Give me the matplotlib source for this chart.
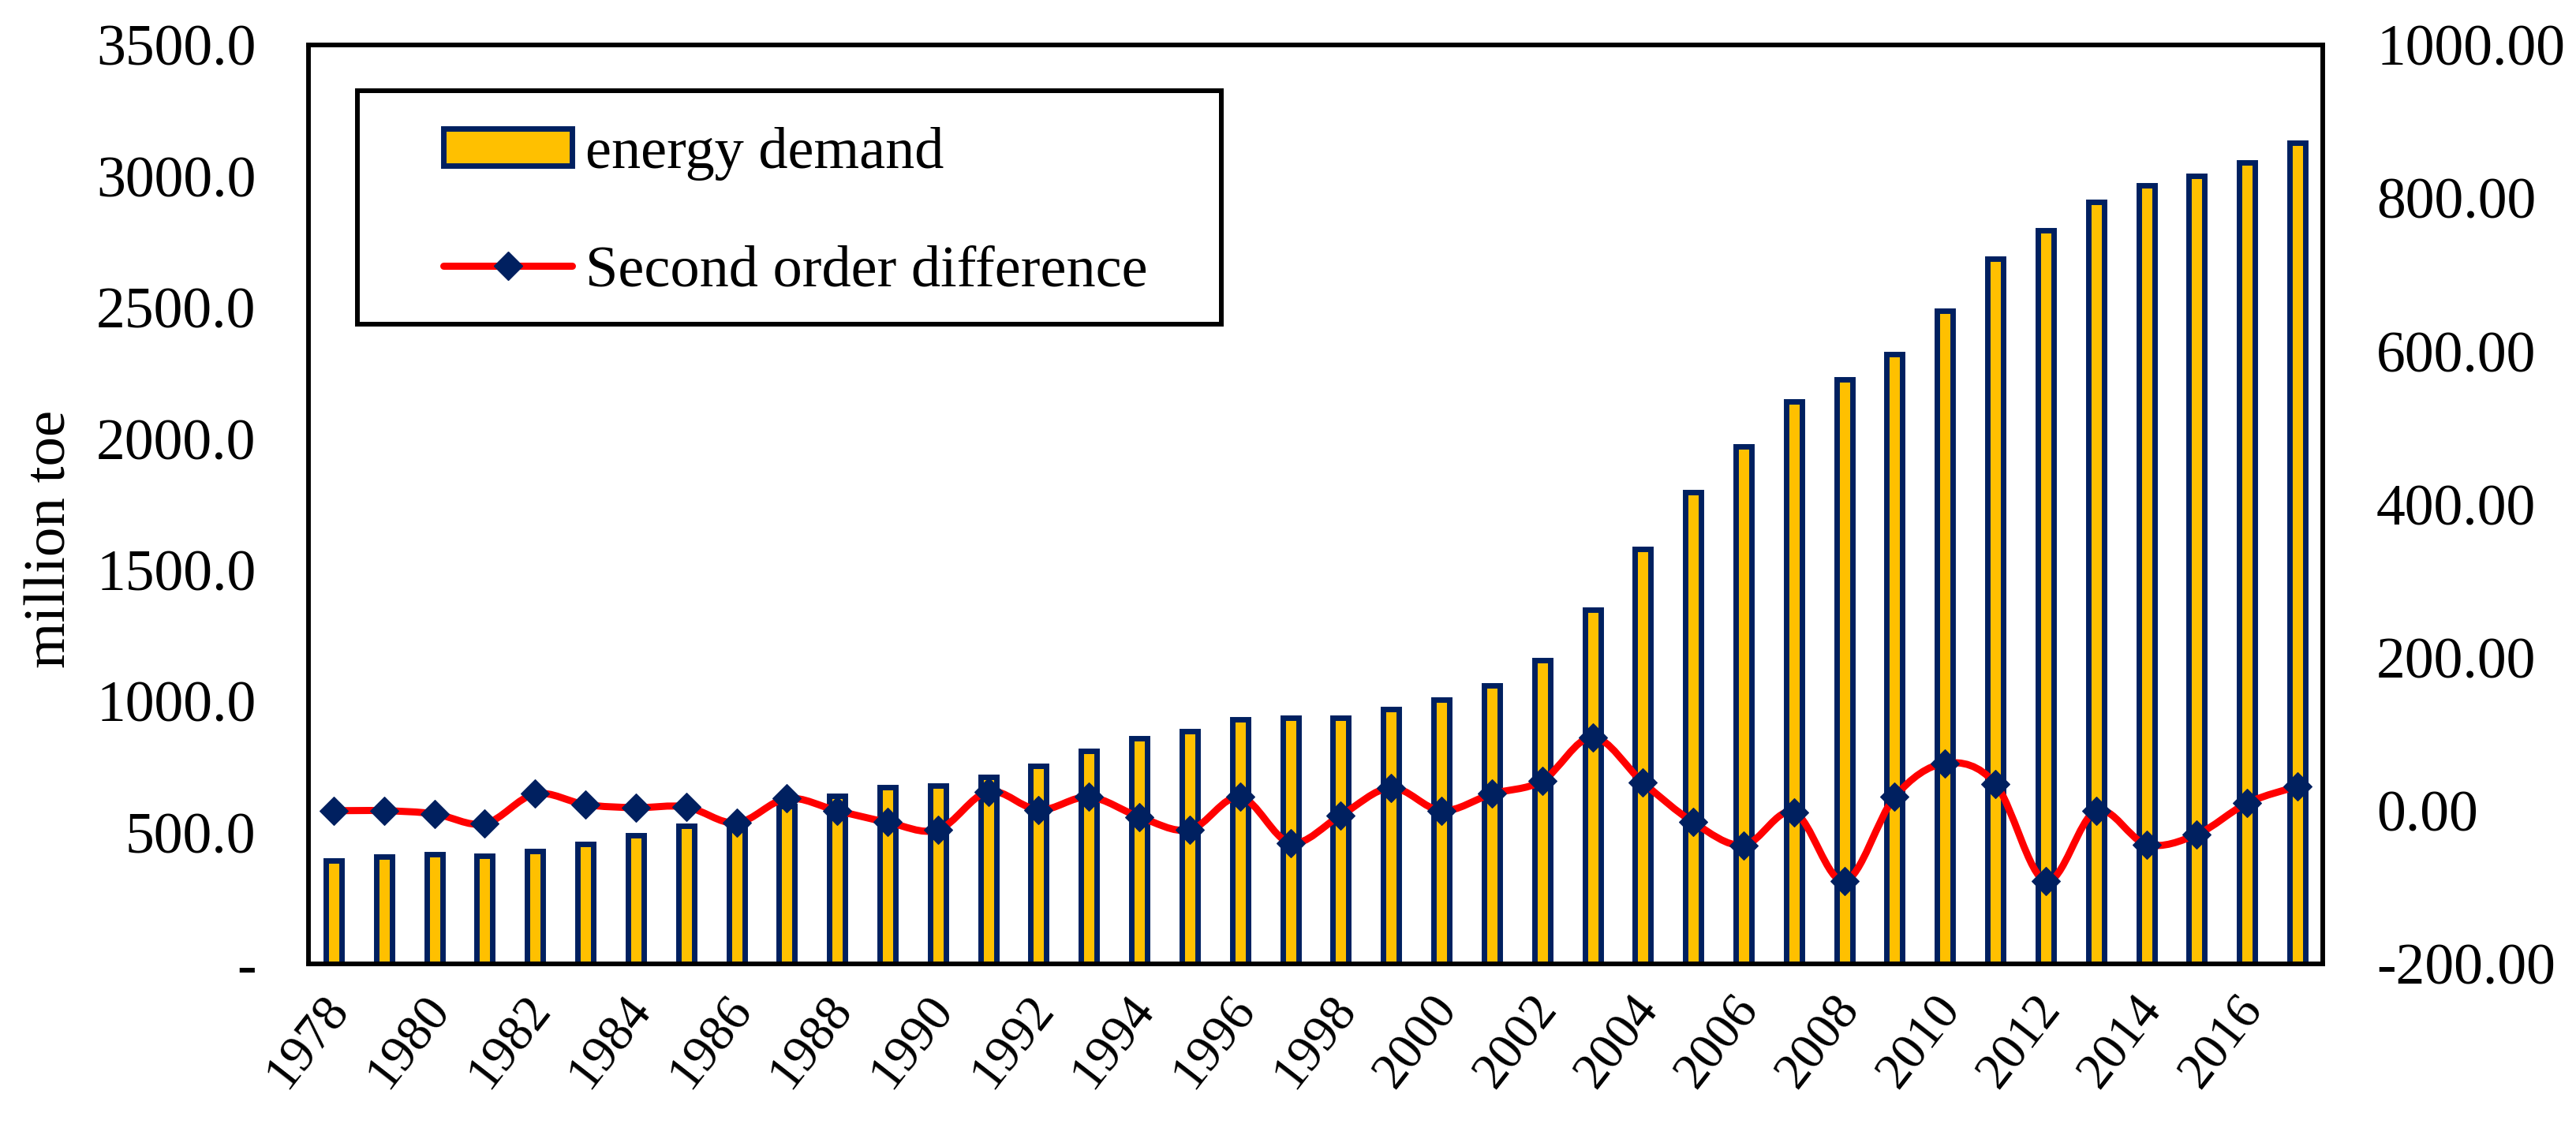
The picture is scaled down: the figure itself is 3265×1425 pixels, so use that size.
import matplotlib
matplotlib.use('Agg')
from matplotlib import pyplot as plt
from matplotlib.path import Path
from matplotlib.patches import PathPatch, Rectangle, Patch
from matplotlib.lines import Line2D
from matplotlib.ticker import FuncFormatter, MultipleLocator
import matplotlib.transforms as mtransforms

plt.rcParams['font.family'] = ['Liberation Serif', 'DejaVu Serif']

# 数据：年份、能源需求（百万吨油当量）、二阶差分
years = list(range(1978, 2018))
energy_demand = [395, 408, 417, 411, 430, 456, 489, 527, 545, 600,
                 641, 674, 680, 712, 755, 812, 860, 887, 932, 938,
                 938, 969, 1005, 1062, 1158, 1350, 1581, 1796, 1972, 2143,
                 2226, 2323, 2489, 2687, 2795, 2902, 2966, 3001, 3051, 3127]
second_diff = [0, 0, -4, -17, 22, 8, 4, 5, -16, 16,
               0, -15, -25, 25, 1, 18, -8, -25, 18, -42,
               -6, 30, 0, 22, 39, 96, 37, -15, -45, -2,
               -92, 18, 62, 35, -92, 0, -44, -31, 10, 32]
tick_years = years[::2]

navy = '#002060'
yellow = '#FFC000'
red = '#FF0000'
dpi = 100
W, H = 3265, 1425


def smooth_path(xs, ys):
    # 类似 Excel 的平滑线：Catmull-Rom 转三次贝塞尔
    n = len(xs)
    verts = [(xs[0], ys[0])]
    codes = [Path.MOVETO]
    for i in range(n - 1):
        xa, ya = (xs[i - 1], ys[i - 1]) if i > 0 else (xs[i], ys[i])
        xb, yb = (xs[i + 2], ys[i + 2]) if i + 2 < n else (xs[i + 1], ys[i + 1])
        c1 = (xs[i] + (xs[i + 1] - xa) / 6, ys[i] + (ys[i + 1] - ya) / 6)
        c2 = (xs[i + 1] - (xb - xs[i]) / 6, ys[i + 1] - (yb - ys[i]) / 6)
        verts += [c1, c2, (xs[i + 1], ys[i + 1])]
        codes += [Path.CURVE4] * 3
    return Path(verts, codes)


fig = plt.figure(figsize=(W / dpi, H / dpi), dpi=dpi)
ax = fig.add_axes([391 / W, 1 - 1222 / H, (2944 - 391) / W, (1222 - 57) / H])
ax2 = ax.twinx()

x = [i + 0.5 for i in range(len(years))]

# 柱状图
ax.bar(x, energy_demand, width=0.313, color=yellow, edgecolor=navy, linewidth=5.0, zorder=2)
ax.set_xlim(0, len(years))
ax.set_ylim(0, 3500)
ax.yaxis.set_major_locator(MultipleLocator(500))
ax.yaxis.set_major_formatter(FuncFormatter(lambda v, p: '-' if abs(v) < 1e-9 else '%.1f' % v))
ax.set_xticks([i + 0.5 for i, y in enumerate(years) if y in tick_years])
ax.set_xticklabels([str(y) for y in tick_years], rotation=52, ha='right', va='top')
ax.tick_params(axis='x', length=0, pad=21, labelsize=47)
ax.tick_params(axis='y', length=0, pad=48, labelsize=53)
offset = mtransforms.ScaledTranslation(22 / 72, 0, fig.dpi_scale_trans)
for lab in ax.get_xticklabels():
    lab.set_transform(lab.get_transform() + offset)
ax.set_ylabel('million toe', fontsize=54)
ax.yaxis.set_label_coords(-0.1144, 0.4627)

# 二阶差分折线（平滑）
ax2.set_ylim(-200, 1000)
ax2.yaxis.set_major_locator(MultipleLocator(200))
ax2.yaxis.set_major_formatter(FuncFormatter(lambda v, p: '%.2f' % v))
ax2.tick_params(axis='y', length=0, pad=49, labelsize=53)
ax2.add_patch(PathPatch(smooth_path(x, second_diff), facecolor='none', edgecolor=red,
                        linewidth=6.5, capstyle='round', joinstyle='round', zorder=3))
ax2.plot(x, second_diff, linestyle='none', marker='D', markersize=18,
         markerfacecolor=navy, markeredgecolor=navy, markeredgewidth=0.8, zorder=4)

for a in (ax, ax2):
    for s in a.spines.values():
        s.set_linewidth(4)
        s.set_color('black')

# 图例
fig.add_artist(Rectangle((453 / W, 1 - 411 / H), (1548 - 453) / W, (411 - 115) / H,
                         transform=fig.transFigure, fill=False, edgecolor='black', linewidth=4.3))
handles = [Patch(facecolor=yellow, edgecolor=navy, linewidth=5.0),
           Line2D([], [], color=red, linewidth=6.5, marker='D', markersize=18,
                  markerfacecolor=navy, markeredgecolor=navy, solid_capstyle='round')]
fig.legend(handles, ['energy demand', 'Second order difference'], loc='upper left',
           bbox_to_anchor=(562 / W, 1 - 161 / H), frameon=False, borderpad=0, borderaxespad=0,
           handlelength=2.2, handleheight=0.59, handletextpad=0.22, labelspacing=1.1,
           fontsize=53.5)

fig.savefig('out.png', dpi=dpi)
